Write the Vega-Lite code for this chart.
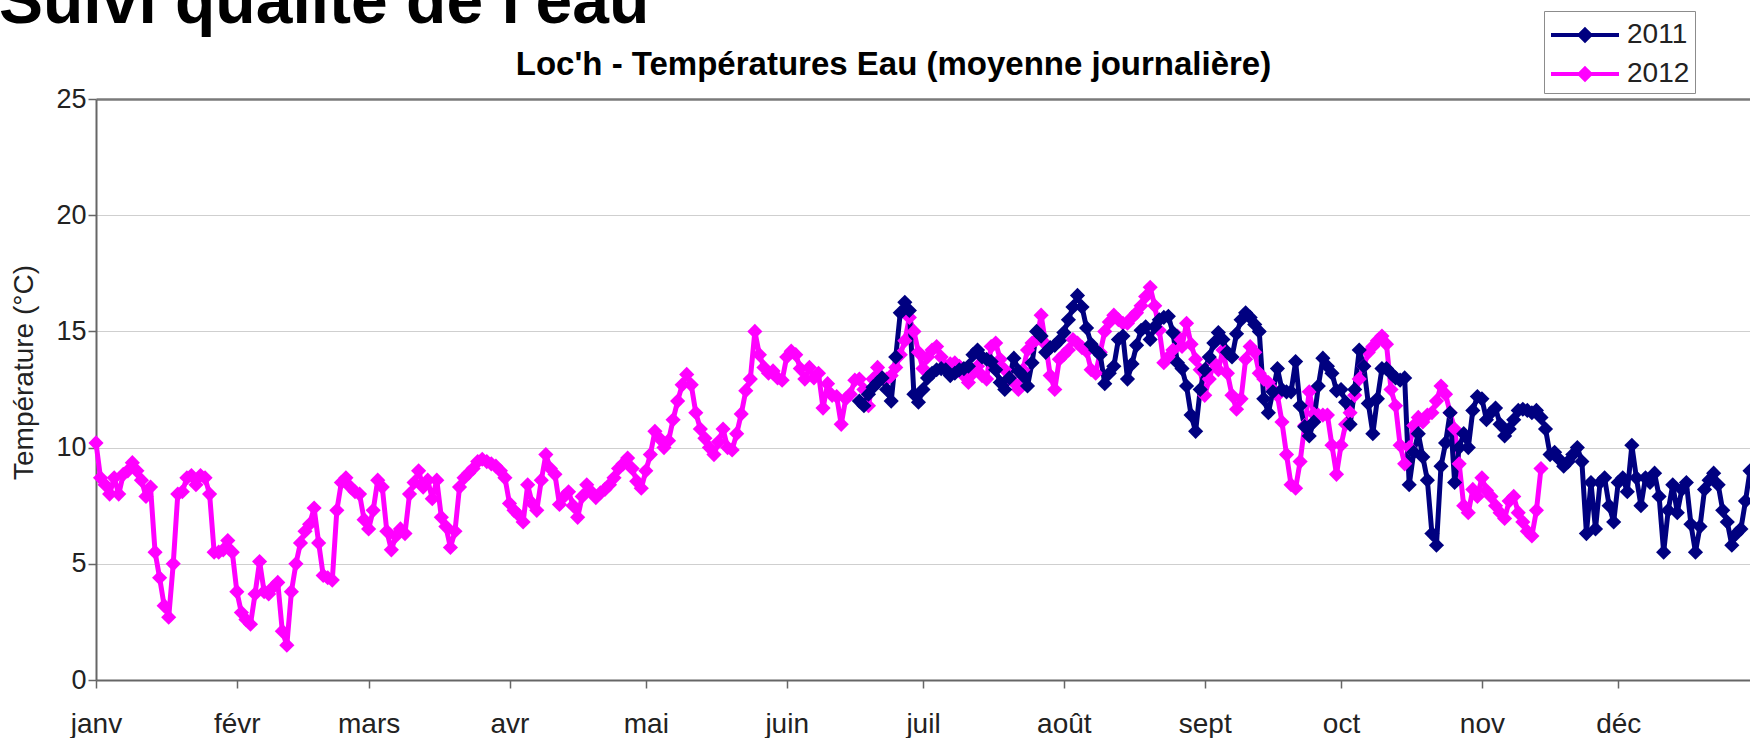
{
  "$schema": "https://vega.github.io/schema/vega-lite/v6.json",
  "width": 1654,
  "height": 581,
  "autosize": {"type": "none"},
  "padding": {"left": 96, "top": 99, "right": 0, "bottom": 58},
  "background": "white",
  "title": {
    "text": "Suivi qualité de l'eau",
    "anchor": "start",
    "frame": "group",
    "font": "Liberation Sans",
    "fontSize": 66,
    "fontWeight": "bold",
    "color": "#000000",
    "baseline": "alphabetic",
    "dx": -97,
    "dy": 78,
    "offset": 0
  },
  "config": {
    "view": {"stroke": null},
    "font": "Liberation Sans"
  },
  "data": {"values": [
    {"annee":"2012","date":"2012-01-01","temperature":10.2},{"annee":"2012","date":"2012-01-02","temperature":8.7},{"annee":"2012","date":"2012-01-03","temperature":8.4},{"annee":"2012","date":"2012-01-04","temperature":8.0},{"annee":"2012","date":"2012-01-05","temperature":8.7},{"annee":"2012","date":"2012-01-06","temperature":8.0},{"annee":"2012","date":"2012-01-07","temperature":8.85},{"annee":"2012","date":"2012-01-08","temperature":9.0},{"annee":"2012","date":"2012-01-09","temperature":9.35},{"annee":"2012","date":"2012-01-10","temperature":9.0},
    {"annee":"2012","date":"2012-01-11","temperature":8.6},{"annee":"2012","date":"2012-01-12","temperature":7.9},{"annee":"2012","date":"2012-01-13","temperature":8.3},{"annee":"2012","date":"2012-01-14","temperature":5.5},{"annee":"2012","date":"2012-01-15","temperature":4.4},{"annee":"2012","date":"2012-01-16","temperature":3.2},{"annee":"2012","date":"2012-01-17","temperature":2.7},{"annee":"2012","date":"2012-01-18","temperature":5.0},{"annee":"2012","date":"2012-01-19","temperature":8.0},{"annee":"2012","date":"2012-01-20","temperature":8.1},
    {"annee":"2012","date":"2012-01-21","temperature":8.7},{"annee":"2012","date":"2012-01-22","temperature":8.8},{"annee":"2012","date":"2012-01-23","temperature":8.4},{"annee":"2012","date":"2012-01-24","temperature":8.8},{"annee":"2012","date":"2012-01-25","temperature":8.7},{"annee":"2012","date":"2012-01-26","temperature":8.0},{"annee":"2012","date":"2012-01-27","temperature":5.5},{"annee":"2012","date":"2012-01-28","temperature":5.5},{"annee":"2012","date":"2012-01-29","temperature":5.6},{"annee":"2012","date":"2012-01-30","temperature":6.0},{"annee":"2012","date":"2012-01-31","temperature":5.5},
    {"annee":"2012","date":"2012-02-01","temperature":3.8},{"annee":"2012","date":"2012-02-02","temperature":2.9},{"annee":"2012","date":"2012-02-03","temperature":2.6},{"annee":"2012","date":"2012-02-04","temperature":2.4},{"annee":"2012","date":"2012-02-05","temperature":3.7},{"annee":"2012","date":"2012-02-06","temperature":5.1},{"annee":"2012","date":"2012-02-07","temperature":3.8},{"annee":"2012","date":"2012-02-08","temperature":3.7},{"annee":"2012","date":"2012-02-09","temperature":4.0},{"annee":"2012","date":"2012-02-10","temperature":4.2},
    {"annee":"2012","date":"2012-02-11","temperature":2.1},{"annee":"2012","date":"2012-02-12","temperature":1.5},{"annee":"2012","date":"2012-02-13","temperature":3.8},{"annee":"2012","date":"2012-02-14","temperature":5.0},{"annee":"2012","date":"2012-02-15","temperature":5.9},{"annee":"2012","date":"2012-02-16","temperature":6.4},{"annee":"2012","date":"2012-02-17","temperature":6.7},{"annee":"2012","date":"2012-02-18","temperature":7.4},{"annee":"2012","date":"2012-02-19","temperature":5.9},{"annee":"2012","date":"2012-02-20","temperature":4.5},
    {"annee":"2012","date":"2012-02-21","temperature":4.4},{"annee":"2012","date":"2012-02-22","temperature":4.3},{"annee":"2012","date":"2012-02-23","temperature":7.3},{"annee":"2012","date":"2012-02-24","temperature":8.5},{"annee":"2012","date":"2012-02-25","temperature":8.7},{"annee":"2012","date":"2012-02-26","temperature":8.3},{"annee":"2012","date":"2012-02-27","temperature":8.1},{"annee":"2012","date":"2012-02-28","temperature":8.0},{"annee":"2012","date":"2012-02-29","temperature":6.9},
    {"annee":"2012","date":"2012-03-01","temperature":6.5},{"annee":"2012","date":"2012-03-02","temperature":7.3},{"annee":"2012","date":"2012-03-03","temperature":8.6},{"annee":"2012","date":"2012-03-04","temperature":8.3},{"annee":"2012","date":"2012-03-05","temperature":6.4},{"annee":"2012","date":"2012-03-06","temperature":5.6},{"annee":"2012","date":"2012-03-07","temperature":6.2},{"annee":"2012","date":"2012-03-08","temperature":6.5},{"annee":"2012","date":"2012-03-09","temperature":6.3},{"annee":"2012","date":"2012-03-10","temperature":8.0},
    {"annee":"2012","date":"2012-03-11","temperature":8.5},{"annee":"2012","date":"2012-03-12","temperature":9.0},{"annee":"2012","date":"2012-03-13","temperature":8.3},{"annee":"2012","date":"2012-03-14","temperature":8.6},{"annee":"2012","date":"2012-03-15","temperature":7.8},{"annee":"2012","date":"2012-03-16","temperature":8.6},{"annee":"2012","date":"2012-03-17","temperature":7.0},{"annee":"2012","date":"2012-03-18","temperature":6.6},{"annee":"2012","date":"2012-03-19","temperature":5.7},{"annee":"2012","date":"2012-03-20","temperature":6.4},
    {"annee":"2012","date":"2012-03-21","temperature":8.3},{"annee":"2012","date":"2012-03-22","temperature":8.7},{"annee":"2012","date":"2012-03-23","temperature":8.9},{"annee":"2012","date":"2012-03-24","temperature":9.1},{"annee":"2012","date":"2012-03-25","temperature":9.4},{"annee":"2012","date":"2012-03-26","temperature":9.5},{"annee":"2012","date":"2012-03-27","temperature":9.4},{"annee":"2012","date":"2012-03-28","temperature":9.3},{"annee":"2012","date":"2012-03-29","temperature":9.2},{"annee":"2012","date":"2012-03-30","temperature":9.0},{"annee":"2012","date":"2012-03-31","temperature":8.7},
    {"annee":"2012","date":"2012-04-01","temperature":7.6},{"annee":"2012","date":"2012-04-02","temperature":7.3},{"annee":"2012","date":"2012-04-03","temperature":7.1},{"annee":"2012","date":"2012-04-04","temperature":6.8},{"annee":"2012","date":"2012-04-05","temperature":8.4},{"annee":"2012","date":"2012-04-06","temperature":7.6},{"annee":"2012","date":"2012-04-07","temperature":7.3},{"annee":"2012","date":"2012-04-08","temperature":8.6},{"annee":"2012","date":"2012-04-09","temperature":9.7},{"annee":"2012","date":"2012-04-10","temperature":9.1},
    {"annee":"2012","date":"2012-04-11","temperature":8.85},{"annee":"2012","date":"2012-04-12","temperature":7.55},{"annee":"2012","date":"2012-04-13","temperature":7.9},{"annee":"2012","date":"2012-04-14","temperature":8.1},{"annee":"2012","date":"2012-04-15","temperature":7.5},{"annee":"2012","date":"2012-04-16","temperature":7.0},{"annee":"2012","date":"2012-04-17","temperature":7.9},{"annee":"2012","date":"2012-04-18","temperature":8.4},{"annee":"2012","date":"2012-04-19","temperature":8.1},{"annee":"2012","date":"2012-04-20","temperature":7.85},
    {"annee":"2012","date":"2012-04-21","temperature":8.05},{"annee":"2012","date":"2012-04-22","temperature":8.2},{"annee":"2012","date":"2012-04-23","temperature":8.4},{"annee":"2012","date":"2012-04-24","temperature":8.7},{"annee":"2012","date":"2012-04-25","temperature":9.1},{"annee":"2012","date":"2012-04-26","temperature":9.3},{"annee":"2012","date":"2012-04-27","temperature":9.55},{"annee":"2012","date":"2012-04-28","temperature":9.1},{"annee":"2012","date":"2012-04-29","temperature":8.55},{"annee":"2012","date":"2012-04-30","temperature":8.25},
    {"annee":"2012","date":"2012-05-01","temperature":9.0},{"annee":"2012","date":"2012-05-02","temperature":9.7},{"annee":"2012","date":"2012-05-03","temperature":10.7},{"annee":"2012","date":"2012-05-04","temperature":10.4},{"annee":"2012","date":"2012-05-05","temperature":10.0},{"annee":"2012","date":"2012-05-06","temperature":10.3},{"annee":"2012","date":"2012-05-07","temperature":11.2},{"annee":"2012","date":"2012-05-08","temperature":12.0},{"annee":"2012","date":"2012-05-09","temperature":12.7},{"annee":"2012","date":"2012-05-10","temperature":13.15},
    {"annee":"2012","date":"2012-05-11","temperature":12.7},{"annee":"2012","date":"2012-05-12","temperature":11.5},{"annee":"2012","date":"2012-05-13","temperature":10.8},{"annee":"2012","date":"2012-05-14","temperature":10.4},{"annee":"2012","date":"2012-05-15","temperature":10.0},{"annee":"2012","date":"2012-05-16","temperature":9.7},{"annee":"2012","date":"2012-05-17","temperature":10.25},{"annee":"2012","date":"2012-05-18","temperature":10.8},{"annee":"2012","date":"2012-05-19","temperature":10.0},{"annee":"2012","date":"2012-05-20","temperature":9.9},
    {"annee":"2012","date":"2012-05-21","temperature":10.6},{"annee":"2012","date":"2012-05-22","temperature":11.45},{"annee":"2012","date":"2012-05-23","temperature":12.45},{"annee":"2012","date":"2012-05-24","temperature":12.95},{"annee":"2012","date":"2012-05-25","temperature":15.0},{"annee":"2012","date":"2012-05-26","temperature":14.0},{"annee":"2012","date":"2012-05-27","temperature":13.45},{"annee":"2012","date":"2012-05-28","temperature":13.2},{"annee":"2012","date":"2012-05-29","temperature":13.3},{"annee":"2012","date":"2012-05-30","temperature":13.0},{"annee":"2012","date":"2012-05-31","temperature":12.9},
    {"annee":"2012","date":"2012-06-01","temperature":13.9},{"annee":"2012","date":"2012-06-02","temperature":14.15},{"annee":"2012","date":"2012-06-03","temperature":14.0},{"annee":"2012","date":"2012-06-04","temperature":13.4},{"annee":"2012","date":"2012-06-05","temperature":12.95},{"annee":"2012","date":"2012-06-06","temperature":13.45},{"annee":"2012","date":"2012-06-07","temperature":13.0},{"annee":"2012","date":"2012-06-08","temperature":13.2},{"annee":"2012","date":"2012-06-09","temperature":11.7},{"annee":"2012","date":"2012-06-10","temperature":12.75},
    {"annee":"2012","date":"2012-06-11","temperature":12.25},{"annee":"2012","date":"2012-06-12","temperature":12.2},{"annee":"2012","date":"2012-06-13","temperature":11.0},{"annee":"2012","date":"2012-06-14","temperature":12.1},{"annee":"2012","date":"2012-06-15","temperature":12.3},{"annee":"2012","date":"2012-06-16","temperature":12.9},{"annee":"2012","date":"2012-06-17","temperature":12.95},{"annee":"2012","date":"2012-06-18","temperature":12.5},{"annee":"2012","date":"2012-06-19","temperature":11.8},{"annee":"2012","date":"2012-06-20","temperature":12.95},
    {"annee":"2012","date":"2012-06-21","temperature":13.45},{"annee":"2012","date":"2012-06-22","temperature":13.0},{"annee":"2012","date":"2012-06-23","temperature":12.95},{"annee":"2012","date":"2012-06-24","temperature":13.1},{"annee":"2012","date":"2012-06-25","temperature":13.45},{"annee":"2012","date":"2012-06-26","temperature":14.0},{"annee":"2012","date":"2012-06-27","temperature":14.6},{"annee":"2012","date":"2012-06-28","temperature":15.6},{"annee":"2012","date":"2012-06-29","temperature":15.0},{"annee":"2012","date":"2012-06-30","temperature":14.1},
    {"annee":"2012","date":"2012-07-01","temperature":13.4},{"annee":"2012","date":"2012-07-02","temperature":13.9},{"annee":"2012","date":"2012-07-03","temperature":14.2},{"annee":"2012","date":"2012-07-04","temperature":14.35},{"annee":"2012","date":"2012-07-05","temperature":13.9},{"annee":"2012","date":"2012-07-06","temperature":13.5},{"annee":"2012","date":"2012-07-07","temperature":13.6},{"annee":"2012","date":"2012-07-08","temperature":13.65},{"annee":"2012","date":"2012-07-09","temperature":13.5},{"annee":"2012","date":"2012-07-10","temperature":13.1},
    {"annee":"2012","date":"2012-07-11","temperature":12.8},{"annee":"2012","date":"2012-07-12","temperature":13.2},{"annee":"2012","date":"2012-07-13","temperature":13.5},{"annee":"2012","date":"2012-07-14","temperature":13.1},{"annee":"2012","date":"2012-07-15","temperature":12.95},{"annee":"2012","date":"2012-07-16","temperature":14.35},{"annee":"2012","date":"2012-07-17","temperature":14.5},{"annee":"2012","date":"2012-07-18","temperature":13.8},{"annee":"2012","date":"2012-07-19","temperature":13.35},{"annee":"2012","date":"2012-07-20","temperature":13.0},
    {"annee":"2012","date":"2012-07-21","temperature":12.8},{"annee":"2012","date":"2012-07-22","temperature":12.5},{"annee":"2012","date":"2012-07-23","temperature":13.35},{"annee":"2012","date":"2012-07-24","temperature":14.2},{"annee":"2012","date":"2012-07-25","temperature":14.5},{"annee":"2012","date":"2012-07-26","temperature":14.65},{"annee":"2012","date":"2012-07-27","temperature":15.7},{"annee":"2012","date":"2012-07-28","temperature":14.45},{"annee":"2012","date":"2012-07-29","temperature":13.1},{"annee":"2012","date":"2012-07-30","temperature":12.5},{"annee":"2012","date":"2012-07-31","temperature":13.8},
    {"annee":"2012","date":"2012-08-01","temperature":14.0},{"annee":"2012","date":"2012-08-02","temperature":14.2},{"annee":"2012","date":"2012-08-03","temperature":14.65},{"annee":"2012","date":"2012-08-04","temperature":14.5},{"annee":"2012","date":"2012-08-05","temperature":14.3},{"annee":"2012","date":"2012-08-06","temperature":14.15},{"annee":"2012","date":"2012-08-07","temperature":13.35},{"annee":"2012","date":"2012-08-08","temperature":13.2},{"annee":"2012","date":"2012-08-09","temperature":14.1},{"annee":"2012","date":"2012-08-10","temperature":15.0},
    {"annee":"2012","date":"2012-08-11","temperature":15.4},{"annee":"2012","date":"2012-08-12","temperature":15.7},{"annee":"2012","date":"2012-08-13","temperature":15.5},{"annee":"2012","date":"2012-08-14","temperature":15.35},{"annee":"2012","date":"2012-08-15","temperature":15.35},{"annee":"2012","date":"2012-08-16","temperature":15.6},{"annee":"2012","date":"2012-08-17","temperature":15.8},{"annee":"2012","date":"2012-08-18","temperature":16.1},{"annee":"2012","date":"2012-08-19","temperature":16.5},{"annee":"2012","date":"2012-08-20","temperature":16.9},
    {"annee":"2012","date":"2012-08-21","temperature":16.1},{"annee":"2012","date":"2012-08-22","temperature":15.05},{"annee":"2012","date":"2012-08-23","temperature":13.65},{"annee":"2012","date":"2012-08-24","temperature":13.9},{"annee":"2012","date":"2012-08-25","temperature":14.2},{"annee":"2012","date":"2012-08-26","temperature":14.8},{"annee":"2012","date":"2012-08-27","temperature":14.35},{"annee":"2012","date":"2012-08-28","temperature":15.35},{"annee":"2012","date":"2012-08-29","temperature":14.45},{"annee":"2012","date":"2012-08-30","temperature":13.8},{"annee":"2012","date":"2012-08-31","temperature":13.35},
    {"annee":"2012","date":"2012-09-01","temperature":12.25},{"annee":"2012","date":"2012-09-02","temperature":12.95},{"annee":"2012","date":"2012-09-03","temperature":13.65},{"annee":"2012","date":"2012-09-04","temperature":13.35},{"annee":"2012","date":"2012-09-05","temperature":14.2},{"annee":"2012","date":"2012-09-06","temperature":13.2},{"annee":"2012","date":"2012-09-07","temperature":12.25},{"annee":"2012","date":"2012-09-08","temperature":11.65},{"annee":"2012","date":"2012-09-09","temperature":12.1},{"annee":"2012","date":"2012-09-10","temperature":13.8},
    {"annee":"2012","date":"2012-09-11","temperature":14.35},{"annee":"2012","date":"2012-09-12","temperature":14.1},{"annee":"2012","date":"2012-09-13","temperature":13.2},{"annee":"2012","date":"2012-09-14","temperature":12.95},{"annee":"2012","date":"2012-09-15","temperature":12.8},{"annee":"2012","date":"2012-09-16","temperature":12.5},{"annee":"2012","date":"2012-09-17","temperature":12.25},{"annee":"2012","date":"2012-09-18","temperature":11.1},{"annee":"2012","date":"2012-09-19","temperature":9.7},{"annee":"2012","date":"2012-09-20","temperature":8.4},
    {"annee":"2012","date":"2012-09-21","temperature":8.25},{"annee":"2012","date":"2012-09-22","temperature":9.4},{"annee":"2012","date":"2012-09-23","temperature":10.95},{"annee":"2012","date":"2012-09-24","temperature":12.4},{"annee":"2012","date":"2012-09-25","temperature":11.45},{"annee":"2012","date":"2012-09-26","temperature":11.4},{"annee":"2012","date":"2012-09-27","temperature":11.4},{"annee":"2012","date":"2012-09-28","temperature":11.4},{"annee":"2012","date":"2012-09-29","temperature":10.1},{"annee":"2012","date":"2012-09-30","temperature":8.85},
    {"annee":"2012","date":"2012-10-01","temperature":10.1},{"annee":"2012","date":"2012-10-02","temperature":11.0},{"annee":"2012","date":"2012-10-03","temperature":11.5},{"annee":"2012","date":"2012-10-04","temperature":12.25},{"annee":"2012","date":"2012-10-05","temperature":12.95},{"annee":"2012","date":"2012-10-06","temperature":13.5},{"annee":"2012","date":"2012-10-07","temperature":14.1},{"annee":"2012","date":"2012-10-08","temperature":14.35},{"annee":"2012","date":"2012-10-09","temperature":14.6},{"annee":"2012","date":"2012-10-10","temperature":14.8},
    {"annee":"2012","date":"2012-10-11","temperature":14.45},{"annee":"2012","date":"2012-10-12","temperature":12.5},{"annee":"2012","date":"2012-10-13","temperature":11.8},{"annee":"2012","date":"2012-10-14","temperature":10.1},{"annee":"2012","date":"2012-10-15","temperature":9.3},{"annee":"2012","date":"2012-10-16","temperature":10.0},{"annee":"2012","date":"2012-10-17","temperature":10.95},{"annee":"2012","date":"2012-10-18","temperature":11.3},{"annee":"2012","date":"2012-10-19","temperature":11.1},{"annee":"2012","date":"2012-10-20","temperature":11.4},
    {"annee":"2012","date":"2012-10-21","temperature":11.5},{"annee":"2012","date":"2012-10-22","temperature":12.0},{"annee":"2012","date":"2012-10-23","temperature":12.65},{"annee":"2012","date":"2012-10-24","temperature":12.3},{"annee":"2012","date":"2012-10-25","temperature":11.5},{"annee":"2012","date":"2012-10-26","temperature":10.8},{"annee":"2012","date":"2012-10-27","temperature":9.3},{"annee":"2012","date":"2012-10-28","temperature":7.5},{"annee":"2012","date":"2012-10-29","temperature":7.2},{"annee":"2012","date":"2012-10-30","temperature":8.2},{"annee":"2012","date":"2012-10-31","temperature":7.9},
    {"annee":"2012","date":"2012-11-01","temperature":8.7},{"annee":"2012","date":"2012-11-02","temperature":8.15},{"annee":"2012","date":"2012-11-03","temperature":7.9},{"annee":"2012","date":"2012-11-04","temperature":7.5},{"annee":"2012","date":"2012-11-05","temperature":7.2},{"annee":"2012","date":"2012-11-06","temperature":6.95},{"annee":"2012","date":"2012-11-07","temperature":7.7},{"annee":"2012","date":"2012-11-08","temperature":7.9},{"annee":"2012","date":"2012-11-09","temperature":7.2},{"annee":"2012","date":"2012-11-10","temperature":6.8},
    {"annee":"2012","date":"2012-11-11","temperature":6.4},{"annee":"2012","date":"2012-11-12","temperature":6.2},{"annee":"2012","date":"2012-11-13","temperature":7.3},{"annee":"2012","date":"2012-11-14","temperature":9.1},

    {"annee":"2011","date":"2011-06-17","temperature":12.0},{"annee":"2011","date":"2011-06-18","temperature":11.8},{"annee":"2011","date":"2011-06-19","temperature":12.3},{"annee":"2011","date":"2011-06-20","temperature":12.6},{"annee":"2011","date":"2011-06-21","temperature":12.8},{"annee":"2011","date":"2011-06-22","temperature":13.0},{"annee":"2011","date":"2011-06-23","temperature":12.5},{"annee":"2011","date":"2011-06-24","temperature":12.0},{"annee":"2011","date":"2011-06-25","temperature":13.9},{"annee":"2011","date":"2011-06-26","temperature":15.8},
    {"annee":"2011","date":"2011-06-27","temperature":16.25},{"annee":"2011","date":"2011-06-28","temperature":15.9},{"annee":"2011","date":"2011-06-29","temperature":12.3},{"annee":"2011","date":"2011-06-30","temperature":11.95},
    {"annee":"2011","date":"2011-07-01","temperature":12.5},{"annee":"2011","date":"2011-07-02","temperature":13.0},{"annee":"2011","date":"2011-07-03","temperature":13.2},{"annee":"2011","date":"2011-07-04","temperature":13.35},{"annee":"2011","date":"2011-07-05","temperature":13.4},{"annee":"2011","date":"2011-07-06","temperature":13.35},{"annee":"2011","date":"2011-07-07","temperature":13.1},{"annee":"2011","date":"2011-07-08","temperature":13.2},{"annee":"2011","date":"2011-07-09","temperature":13.35},{"annee":"2011","date":"2011-07-10","temperature":13.4},
    {"annee":"2011","date":"2011-07-11","temperature":13.5},{"annee":"2011","date":"2011-07-12","temperature":14.0},{"annee":"2011","date":"2011-07-13","temperature":14.2},{"annee":"2011","date":"2011-07-14","temperature":13.9},{"annee":"2011","date":"2011-07-15","temperature":13.8},{"annee":"2011","date":"2011-07-16","temperature":13.7},{"annee":"2011","date":"2011-07-17","temperature":13.35},{"annee":"2011","date":"2011-07-18","temperature":12.8},{"annee":"2011","date":"2011-07-19","temperature":12.5},{"annee":"2011","date":"2011-07-20","temperature":13.0},
    {"annee":"2011","date":"2011-07-21","temperature":13.85},{"annee":"2011","date":"2011-07-22","temperature":13.3},{"annee":"2011","date":"2011-07-23","temperature":13.1},{"annee":"2011","date":"2011-07-24","temperature":12.65},{"annee":"2011","date":"2011-07-25","temperature":13.65},{"annee":"2011","date":"2011-07-26","temperature":15.0},{"annee":"2011","date":"2011-07-27","temperature":14.8},{"annee":"2011","date":"2011-07-28","temperature":14.1},{"annee":"2011","date":"2011-07-29","temperature":14.3},{"annee":"2011","date":"2011-07-30","temperature":14.4},{"annee":"2011","date":"2011-07-31","temperature":14.6},
    {"annee":"2011","date":"2011-08-01","temperature":14.95},{"annee":"2011","date":"2011-08-02","temperature":15.5},{"annee":"2011","date":"2011-08-03","temperature":16.05},{"annee":"2011","date":"2011-08-04","temperature":16.55},{"annee":"2011","date":"2011-08-05","temperature":16.05},{"annee":"2011","date":"2011-08-06","temperature":15.15},{"annee":"2011","date":"2011-08-07","temperature":14.45},{"annee":"2011","date":"2011-08-08","temperature":14.2},{"annee":"2011","date":"2011-08-09","temperature":14.0},{"annee":"2011","date":"2011-08-10","temperature":12.75},
    {"annee":"2011","date":"2011-08-11","temperature":13.2},{"annee":"2011","date":"2011-08-12","temperature":13.5},{"annee":"2011","date":"2011-08-13","temperature":14.65},{"annee":"2011","date":"2011-08-14","temperature":14.8},{"annee":"2011","date":"2011-08-15","temperature":12.95},{"annee":"2011","date":"2011-08-16","temperature":13.6},{"annee":"2011","date":"2011-08-17","temperature":14.4},{"annee":"2011","date":"2011-08-18","temperature":15.05},{"annee":"2011","date":"2011-08-19","temperature":15.2},{"annee":"2011","date":"2011-08-20","temperature":14.65},
    {"annee":"2011","date":"2011-08-21","temperature":15.2},{"annee":"2011","date":"2011-08-22","temperature":15.5},{"annee":"2011","date":"2011-08-23","temperature":15.6},{"annee":"2011","date":"2011-08-24","temperature":15.65},{"annee":"2011","date":"2011-08-25","temperature":14.95},{"annee":"2011","date":"2011-08-26","temperature":13.65},{"annee":"2011","date":"2011-08-27","temperature":13.4},{"annee":"2011","date":"2011-08-28","temperature":12.65},{"annee":"2011","date":"2011-08-29","temperature":11.4},{"annee":"2011","date":"2011-08-30","temperature":10.7},{"annee":"2011","date":"2011-08-31","temperature":12.5},
    {"annee":"2011","date":"2011-09-01","temperature":13.35},{"annee":"2011","date":"2011-09-02","temperature":13.9},{"annee":"2011","date":"2011-09-03","temperature":14.5},{"annee":"2011","date":"2011-09-04","temperature":14.95},{"annee":"2011","date":"2011-09-05","temperature":14.65},{"annee":"2011","date":"2011-09-06","temperature":14.1},{"annee":"2011","date":"2011-09-07","temperature":13.9},{"annee":"2011","date":"2011-09-08","temperature":14.9},{"annee":"2011","date":"2011-09-09","temperature":15.5},{"annee":"2011","date":"2011-09-10","temperature":15.8},
    {"annee":"2011","date":"2011-09-11","temperature":15.6},{"annee":"2011","date":"2011-09-12","temperature":15.3},{"annee":"2011","date":"2011-09-13","temperature":15.0},{"annee":"2011","date":"2011-09-14","temperature":12.1},{"annee":"2011","date":"2011-09-15","temperature":11.5},{"annee":"2011","date":"2011-09-16","temperature":12.4},{"annee":"2011","date":"2011-09-17","temperature":13.4},{"annee":"2011","date":"2011-09-18","temperature":12.5},{"annee":"2011","date":"2011-09-19","temperature":12.4},{"annee":"2011","date":"2011-09-20","temperature":12.4},
    {"annee":"2011","date":"2011-09-21","temperature":13.7},{"annee":"2011","date":"2011-09-22","temperature":11.8},{"annee":"2011","date":"2011-09-23","temperature":10.9},{"annee":"2011","date":"2011-09-24","temperature":10.5},{"annee":"2011","date":"2011-09-25","temperature":11.1},{"annee":"2011","date":"2011-09-26","temperature":12.65},{"annee":"2011","date":"2011-09-27","temperature":13.85},{"annee":"2011","date":"2011-09-28","temperature":13.5},{"annee":"2011","date":"2011-09-29","temperature":13.2},{"annee":"2011","date":"2011-09-30","temperature":12.45},
    {"annee":"2011","date":"2011-10-01","temperature":12.5},{"annee":"2011","date":"2011-10-02","temperature":11.95},{"annee":"2011","date":"2011-10-03","temperature":11.0},{"annee":"2011","date":"2011-10-04","temperature":12.5},{"annee":"2011","date":"2011-10-05","temperature":14.2},{"annee":"2011","date":"2011-10-06","temperature":13.5},{"annee":"2011","date":"2011-10-07","temperature":11.9},{"annee":"2011","date":"2011-10-08","temperature":10.6},{"annee":"2011","date":"2011-10-09","temperature":12.1},{"annee":"2011","date":"2011-10-10","temperature":13.4},
    {"annee":"2011","date":"2011-10-11","temperature":13.4},{"annee":"2011","date":"2011-10-12","temperature":13.2},{"annee":"2011","date":"2011-10-13","temperature":13.0},{"annee":"2011","date":"2011-10-14","temperature":12.9},{"annee":"2011","date":"2011-10-15","temperature":13.0},{"annee":"2011","date":"2011-10-16","temperature":8.4},{"annee":"2011","date":"2011-10-17","temperature":9.8},{"annee":"2011","date":"2011-10-18","temperature":10.6},{"annee":"2011","date":"2011-10-19","temperature":9.6},{"annee":"2011","date":"2011-10-20","temperature":8.6},
    {"annee":"2011","date":"2011-10-21","temperature":6.3},{"annee":"2011","date":"2011-10-22","temperature":5.8},{"annee":"2011","date":"2011-10-23","temperature":9.2},{"annee":"2011","date":"2011-10-24","temperature":10.2},{"annee":"2011","date":"2011-10-25","temperature":11.5},{"annee":"2011","date":"2011-10-26","temperature":8.5},{"annee":"2011","date":"2011-10-27","temperature":10.0},{"annee":"2011","date":"2011-10-28","temperature":10.6},{"annee":"2011","date":"2011-10-29","temperature":10.0},{"annee":"2011","date":"2011-10-30","temperature":11.6},{"annee":"2011","date":"2011-10-31","temperature":12.2},
    {"annee":"2011","date":"2011-11-01","temperature":12.1},{"annee":"2011","date":"2011-11-02","temperature":11.2},{"annee":"2011","date":"2011-11-03","temperature":11.5},{"annee":"2011","date":"2011-11-04","temperature":11.7},{"annee":"2011","date":"2011-11-05","temperature":11.0},{"annee":"2011","date":"2011-11-06","temperature":10.5},{"annee":"2011","date":"2011-11-07","temperature":10.8},{"annee":"2011","date":"2011-11-08","temperature":11.2},{"annee":"2011","date":"2011-11-09","temperature":11.6},{"annee":"2011","date":"2011-11-10","temperature":11.65},
    {"annee":"2011","date":"2011-11-11","temperature":11.6},{"annee":"2011","date":"2011-11-12","temperature":11.5},{"annee":"2011","date":"2011-11-13","temperature":11.6},{"annee":"2011","date":"2011-11-14","temperature":11.3},{"annee":"2011","date":"2011-11-15","temperature":10.8},{"annee":"2011","date":"2011-11-16","temperature":9.7},{"annee":"2011","date":"2011-11-17","temperature":9.8},{"annee":"2011","date":"2011-11-18","temperature":9.5},{"annee":"2011","date":"2011-11-19","temperature":9.2},{"annee":"2011","date":"2011-11-20","temperature":9.4},
    {"annee":"2011","date":"2011-11-21","temperature":9.7},{"annee":"2011","date":"2011-11-22","temperature":10.0},{"annee":"2011","date":"2011-11-23","temperature":9.4},{"annee":"2011","date":"2011-11-24","temperature":6.3},{"annee":"2011","date":"2011-11-25","temperature":8.5},{"annee":"2011","date":"2011-11-26","temperature":6.5},{"annee":"2011","date":"2011-11-27","temperature":8.5},{"annee":"2011","date":"2011-11-28","temperature":8.7},{"annee":"2011","date":"2011-11-29","temperature":7.5},{"annee":"2011","date":"2011-11-30","temperature":6.8},
    {"annee":"2011","date":"2011-12-01","temperature":8.5},{"annee":"2011","date":"2011-12-02","temperature":8.7},{"annee":"2011","date":"2011-12-03","temperature":8.1},{"annee":"2011","date":"2011-12-04","temperature":10.1},{"annee":"2011","date":"2011-12-05","temperature":8.7},{"annee":"2011","date":"2011-12-06","temperature":7.5},{"annee":"2011","date":"2011-12-07","temperature":8.7},{"annee":"2011","date":"2011-12-08","temperature":8.5},{"annee":"2011","date":"2011-12-09","temperature":8.9},{"annee":"2011","date":"2011-12-10","temperature":7.9},
    {"annee":"2011","date":"2011-12-11","temperature":5.5},{"annee":"2011","date":"2011-12-12","temperature":7.3},{"annee":"2011","date":"2011-12-13","temperature":8.4},{"annee":"2011","date":"2011-12-14","temperature":7.2},{"annee":"2011","date":"2011-12-15","temperature":8.2},{"annee":"2011","date":"2011-12-16","temperature":8.5},{"annee":"2011","date":"2011-12-17","temperature":6.7},{"annee":"2011","date":"2011-12-18","temperature":5.5},{"annee":"2011","date":"2011-12-19","temperature":6.6},{"annee":"2011","date":"2011-12-20","temperature":8.2},
    {"annee":"2011","date":"2011-12-21","temperature":8.6},{"annee":"2011","date":"2011-12-22","temperature":8.9},{"annee":"2011","date":"2011-12-23","temperature":8.4},{"annee":"2011","date":"2011-12-24","temperature":7.3},{"annee":"2011","date":"2011-12-25","temperature":6.8},{"annee":"2011","date":"2011-12-26","temperature":5.8},{"annee":"2011","date":"2011-12-27","temperature":6.3},{"annee":"2011","date":"2011-12-28","temperature":6.5},{"annee":"2011","date":"2011-12-29","temperature":7.7},{"annee":"2011","date":"2011-12-30","temperature":9.0}
  ]},
  "encoding": {
    "y": {
      "field": "temperature",
      "type": "quantitative",
      "scale": {"domain": [0, 25], "nice": false, "zero": true},
      "axis": {
        "values": [0, 5, 10, 15, 20, 25],
        "title": "Température (°C)",
        "titleFont": "Liberation Sans",
        "titleFontSize": 28,
        "titleFontWeight": "normal",
        "titleColor": "#222222",
        "titlePadding": 17,
        "titleY": 273,
        "labelFont": "Liberation Sans",
        "labelFontSize": 27,
        "labelColor": "#222222",
        "labelPadding": 2,
        "tickSize": 8,
        "tickColor": "#666666",
        "tickWidth": 1.5,
        "domainColor": "#666666",
        "domainWidth": 2,
        "grid": true,
        "gridColor": {"condition": {"test": "datum.value === 25", "value": "#7a7a7a"}, "value": "#cfcfcf"},
        "gridWidth": {"condition": {"test": "datum.value === 25", "value": 2.5}, "value": 1.2}
      }
    },
    "color": {
      "field": "annee",
      "type": "nominal",
      "scale": {"domain": ["2011", "2012"], "range": ["#000080", "#ff00ff"]},
      "legend": {
        "title": null,
        "orient": "none",
        "legendX": 1448,
        "legendY": -88,
        "direction": "vertical",
        "fillColor": "#ffffff",
        "strokeColor": "#8c8c8c",
        "padding": 5,
        "labelFont": "Liberation Sans",
        "labelFontSize": 28,
        "labelColor": "#222222",
        "labelOffset": 40,
        "rowPadding": 6,
        "symbolType": "M-1,0H3M1,-0.32L1.32,0L1,0.32L0.68,0Z",
        "symbolSize": 1156,
        "symbolStrokeWidth": 4
      }
    }
  },
  "layer": [
    {
      "mark": {"type": "line", "strokeWidth": 5, "strokeJoin": "round"},
      "encoding": {
        "x": {
          "field": "date",
          "timeUnit": "utcmonthdate",
          "type": "temporal",
          "scale": {"domain": [{"year": 2012, "month": 1, "date": 1, "utc": true}, {"year": 2012, "month": 12, "date": 30, "utc": true}]},
          "axis": {
            "title": null,
            "values": [
              {"year": 2012, "month": 1, "date": 1, "utc": true},
              {"year": 2012, "month": 2, "date": 1, "utc": true},
              {"year": 2012, "month": 3, "date": 1, "utc": true},
              {"year": 2012, "month": 4, "date": 1, "utc": true},
              {"year": 2012, "month": 5, "date": 1, "utc": true},
              {"year": 2012, "month": 6, "date": 1, "utc": true},
              {"year": 2012, "month": 7, "date": 1, "utc": true},
              {"year": 2012, "month": 8, "date": 1, "utc": true},
              {"year": 2012, "month": 9, "date": 1, "utc": true},
              {"year": 2012, "month": 10, "date": 1, "utc": true},
              {"year": 2012, "month": 11, "date": 1, "utc": true},
              {"year": 2012, "month": 12, "date": 1, "utc": true}
            ],
            "labelExpr": "['janv','févr','mars','avr','mai','juin','juil','août','sept','oct','nov','déc'][utcmonth(datum.value)]",
            "grid": false,
            "tickSize": 8,
            "tickColor": "#666666",
            "tickWidth": 1.5,
            "domainColor": "#666666",
            "domainWidth": 2,
            "labelFont": "Liberation Sans",
            "labelFontSize": 28,
            "labelColor": "#222222",
            "labelPadding": 22,
            "labelFlush": false,
            "labelOverlap": false
          }
        }
      }
    },
    {
      "mark": {"type": "point", "shape": "diamond", "filled": true, "size": 230, "opacity": 1},
      "encoding": {
        "x": {
          "field": "date",
          "timeUnit": "utcmonthdate",
          "type": "temporal",
          "axis": {
            "orient": "top",
            "labels": false,
            "ticks": false,
            "domain": false,
            "grid": false,
            "title": "Loc'h - Températures Eau (moyenne journalière)",
            "titleFont": "Liberation Sans",
            "titleFontSize": 33,
            "titleFontWeight": "bold",
            "titleColor": "#000000",
            "titleX": 797,
            "titleY": -25,
            "titleAlign": "center",
            "titleBaseline": "alphabetic"
          }
        }
      }
    }
  ],
  "resolve": {"axis": {"x": "independent"}}
}
